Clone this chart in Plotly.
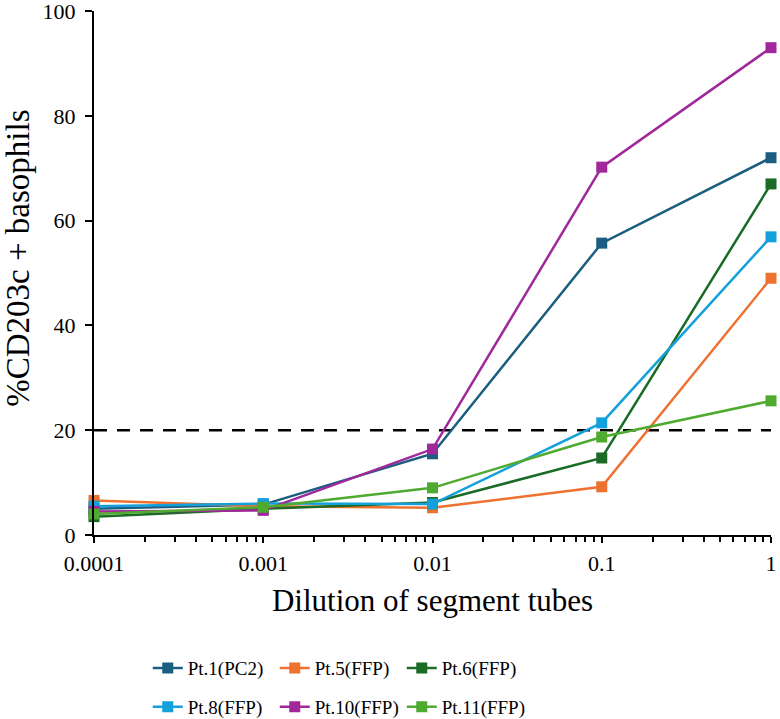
import plotly.graph_objects as go

dilutions = [0.0001, 0.001, 0.01, 0.1, 1]
tick_labels = ["0.0001", "0.001", "0.01", "0.1", "1"]
series_names = ["Pt.1(PC2)", "Pt.5(FFP)", "Pt.6(FFP)", "Pt.8(FFP)", "Pt.10(FFP)", "Pt.11(FFP)"]
pt1 = [5.0, 5.8, 15.5, 55.7, 72.0]
pt5 = [6.6, 5.5, 5.2, 9.2, 49.0]
pt6 = [3.5, 5.0, 6.2, 14.7, 67.0]
pt8 = [5.5, 6.0, 5.9, 21.4, 56.9]
pt10 = [4.5, 4.7, 16.4, 70.2, 93.0]
pt11 = [4.0, 5.3, 9.0, 18.7, 25.6]
threshold = 20
y_title = "%CD203c + basophils"
x_title = "Dilution of segment tubes"

series_values = [pt1, pt5, pt6, pt8, pt10, pt11]
colors = ["#1B5E80", "#EE7130", "#1A6B26", "#14A0DA", "#A0289A", "#4FAA30"]

font_family = "Liberation Serif, Times New Roman, serif"

fig = go.Figure()
fig.add_trace(go.Scatter(x=[dilutions[0], dilutions[-1]], y=[threshold, threshold], mode="lines",
                         line=dict(color="black", width=2.5, dash="13px,10px"),
                         showlegend=False, hoverinfo="skip"))
for i, (name, vals, col) in enumerate(zip(series_names, series_values, colors)):
    fig.add_trace(go.Scatter(
        x=dilutions, y=vals, name=name, mode="lines+markers",
        line=dict(color=col, width=2.5),
        marker=dict(symbol="square", size=11, color=col),
        cliponaxis=False,
        legend="legend" if i < 3 else "legend2",
    ))

legend_common = dict(orientation="h", xanchor="left", yanchor="middle",
                     font=dict(family=font_family, size=19, color="black"),
                     itemwidth=30, entrywidth=82, entrywidthmode="pixels",
                     bgcolor="rgba(0,0,0,0)", tracegroupgap=0)

minor_vals = [m * 10 ** e for e in range(-4, 0) for m in range(2, 10)]

fig.update_layout(
    width=780, height=719,
    margin=dict(l=94, r=9, t=11, b=184, autoexpand=False),
    plot_bgcolor="white", paper_bgcolor="white",
    font=dict(family=font_family, size=22, color="black"),
    xaxis=dict(type="log", range=[-4, 0], tickvals=dilutions, ticktext=tick_labels,
               showgrid=False, zeroline=False, showline=True, linecolor="black", linewidth=2,
               ticks="outside", ticklen=6, tickwidth=2, tickcolor="black",
               tickfont=dict(family=font_family, size=22), ticklabelstandoff=2,
               ticklabeloverflow="allow",
               minor=dict(tickvals=minor_vals, ticks="outside", ticklen=5, tickwidth=1.5,
                          tickcolor="black", showgrid=False),
               title=dict(text=x_title, font=dict(family=font_family, size=31), standoff=14)),
    yaxis=dict(range=[0, 100], dtick=20, showgrid=False, zeroline=False, showline=True,
               linecolor="black", linewidth=2, ticks="outside", ticklen=7, tickwidth=2,
               tickcolor="black", tickfont=dict(family=font_family, size=22),
               ticklabelstandoff=5, ticklabeloverflow="allow"),
    legend=dict(x=0.0794, y=-0.254, **legend_common),
    legend2=dict(x=0.0794, y=-0.328, **legend_common),
    annotations=[dict(text=y_title, textangle=-90, xref="paper", yref="paper",
                      x=-0.1123, y=0.529, xanchor="center", yanchor="middle",
                      showarrow=False, font=dict(family=font_family, size=33, color="black"))],
)

fig.write_html("out.html")
